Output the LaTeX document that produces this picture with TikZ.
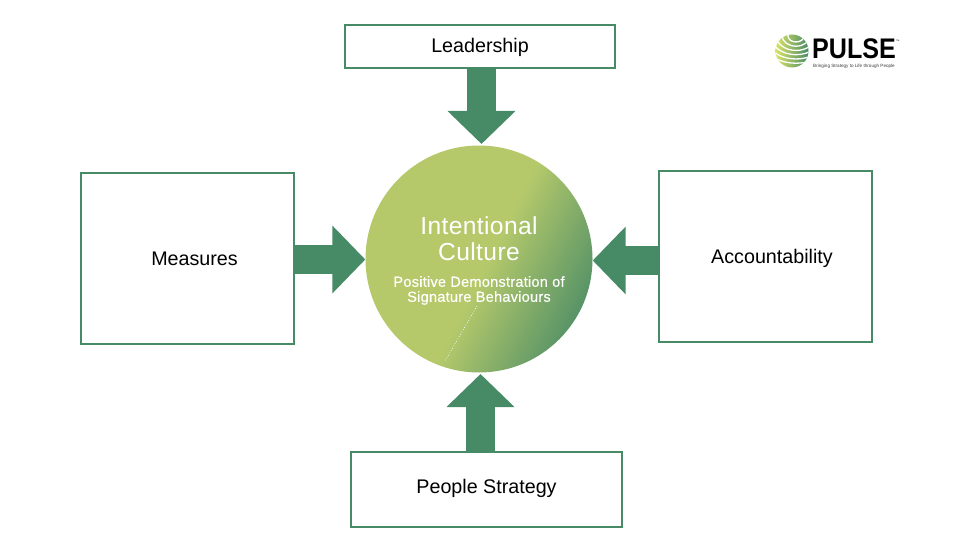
\documentclass[tikz,border=0pt]{standalone}
\usepackage{fontspec}
\setmainfont{Liberation Sans}
\newfontfamily\spaced[LetterSpace=1.5]{Liberation Sans}
\usetikzlibrary{arrows.meta}
\definecolor{pgreen}{HTML}{478A66}
\definecolor{plime}{HTML}{B5C96B}
\pgfdeclarehorizontalshading{pulsegrad}{100bp}{color(0bp)=(plime); color(52bp)=(plime); color(79bp)=(pgreen); color(100bp)=(pgreen)}
\tikzset{
  box/.style={draw=pgreen,line width=2.8pt,fill=white,inner sep=0pt},
  boxtext/.style={font=\fontsize{19.7}{22}\selectfont},
  bigarrow/.style={draw=pgreen,line width=29pt,-{Triangle[length=33pt,width=66pt,fill=pgreen]}},
}
\begin{document}
\begin{tikzpicture}[x=1pt,y=-1pt]
\useasboundingbox (0,0) rectangle (960,540);
\fill[white] (0,0) rectangle (960,540);
% boxes
\node[box,minimum width=270pt,minimum height=43pt] (lead) at (480,46.5) {};
\node[boxtext] (leadt) at (480,47.2) {Leadership};
\node[box,minimum width=213pt,minimum height=171pt] (meas) at (187.5,258.5) {};
\node[boxtext] (meast) at (194.5,258.5) {Measures};
\node[box,minimum width=213pt,minimum height=171pt] (acct) at (765.5,256.5) {};
\node[boxtext] (acctt) at (772,258) {Accountability};
\node[box,minimum width=271pt,minimum height=75pt] (ppl) at (486.5,489.5) {};
\node[boxtext] (pplt) at (486.5,488) {People Strategy};
% circle
\node[circle,minimum size=227pt,inner sep=0pt,shading=pulsegrad,shading angle=-26.5] (core) at (479,259) {};
\draw[white,line width=0.7pt,dotted] (477,306) -- (445,361);
\node[text=white,align=center,font=\spaced\fontsize{24.6}{25.5}\selectfont] (t1) at (479,238.5) {Intentional\\Culture};
\node[text=white,align=center,font=\spaced\fontsize{14.6}{15}\selectfont\addfontfeatures{FakeBold=0.4}] (t2) at (479,290.5) {Positive Demonstration of\\Signature Behaviours};
% arrows
\draw[bigarrow] (lead.south -| 481.5,0) -- (481.5,144);
\draw[bigarrow] (meas.east |- 0,259.5) -- (core.west |- 0,259.5);
\draw[bigarrow] (acct.west |- 0,260.5) -- (core.east |- 0,260.5);
\draw[bigarrow] (ppl.north -| 480.5,0) -- (480.5,374);
% logo
\begin{scope}
\clip (792,51) circle (16.5);
\shade[left color=plime!60!yellow!80!white,right color=pgreen] (775,34) rectangle (809,68);
\foreach \r in {7,12,17,22,27,32}{
  \draw[white,line width=1.3pt] (796,36) ellipse ({\r*1.15} and {\r*0.85});
}
\end{scope}
\node[font=\bfseries\fontsize{27}{27}\selectfont,anchor=west,inner sep=0pt,text=black,xscale=0.93,yscale=1.05] (pulse) at (812,49) {PULSE};
\node[font=\fontsize{3.5}{4}\selectfont,anchor=west,inner sep=0pt,text=black] (tm) at (896,41) {™};
\node[font=\fontsize{4.6}{5}\selectfont,anchor=west,inner sep=0pt,text=black!75] (tag) at (813,66.5) {Bringing Strategy to Life through People};
\end{tikzpicture}
\end{document}
